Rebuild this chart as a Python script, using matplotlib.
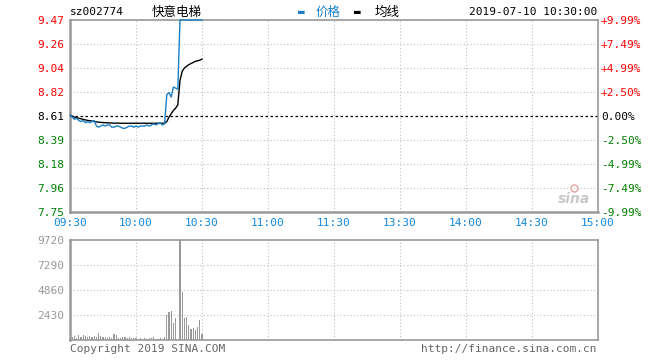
import numpy as np
import matplotlib.pyplot as plt

plt.rcParams['font.family'] = ['DejaVu Sans Mono', 'Noto Sans CJK SC']

# --- data (one value per minute, 09:30 .. 10:30) ---
prev_close = 8.61
price = [8.62, 8.60, 8.58, 8.59, 8.57, 8.56, 8.57, 8.55, 8.56, 8.55,
         8.56, 8.57, 8.52, 8.51, 8.52, 8.53, 8.52, 8.53, 8.53, 8.51,
         8.51, 8.52, 8.52, 8.51, 8.50, 8.50, 8.51, 8.52, 8.52, 8.51,
         8.52, 8.51, 8.52, 8.52, 8.52, 8.53, 8.52, 8.53, 8.54, 8.53,
         8.54, 8.55, 8.53, 8.54, 8.80, 8.82, 8.78, 8.87, 8.86, 8.85,
         9.47, 9.47, 9.47, 9.47, 9.47, 9.47, 9.47, 9.47, 9.47, 9.47, 9.47]
avg_line = [8.615, 8.61, 8.60, 8.595, 8.59, 8.585, 8.58, 8.575, 8.57, 8.568,
            8.565, 8.56, 8.557, 8.555, 8.553, 8.551, 8.55, 8.549, 8.548, 8.547,
            8.546, 8.546, 8.546, 8.545, 8.545, 8.545, 8.545, 8.545, 8.545, 8.545,
            8.545, 8.545, 8.545, 8.545, 8.545, 8.545, 8.545, 8.545, 8.545, 8.545,
            8.545, 8.545, 8.545, 8.545, 8.56, 8.60, 8.63, 8.66, 8.68, 8.71,
            8.93, 9.01, 9.04, 9.055, 9.07, 9.08, 9.09, 9.10, 9.105, 9.11, 9.12]
volume = [700, 250, 350, 200, 450, 300, 500, 350, 300, 400,
          300, 350, 300, 650, 350, 250, 300, 150, 250, 200,
          550, 450, 200, 150, 250, 300, 200, 250, 150, 200,
          150, 100, 200, 100, 150, 100, 150, 200, 300, 100,
          100, 150, 100, 300, 2430, 2750, 2850, 1650, 2100, 0,
          9720, 4700, 2150, 2250, 1450, 1100, 1200, 1000, 1300, 1950, 600]
time_labels = ['09:30', '10:00', '10:30', '11:00', '11:30',
               '13:30', '14:00', '14:30', '15:00']
price_ticks = [9.47, 9.26, 9.04, 8.82, 8.61, 8.39, 8.18, 7.96, 7.75]
pct_labels = ['+9.99%', '+7.49%', '+4.99%', '+2.50%', '0.00%',
              '-2.50%', '-4.99%', '-7.49%', '-9.99%']
vol_ticks = [9720, 7290, 4860, 2430]

RED, GREEN, BLUE = '#ff0000', '#008000', '#1a7fc8'
GRID = '#c0c0c0'
FRAME = '#999999'

minutes = np.arange(len(price))
fig = plt.figure(figsize=(6.6, 3.6), dpi=100)

# --- price panel ---
ax = fig.add_axes([70 / 660, 1 - 212 / 360, 528 / 660, 192 / 360])
ax.set_xlim(0, 240)
ax.set_ylim(7.75, 9.47)
tick_y = np.linspace(9.47, 7.75, 9)
for y in tick_y:
    if abs(y - prev_close) > 0.01:
        ax.axhline(y, color=GRID, lw=0.8, ls=(0, (1, 2)))
for x in range(30, 240, 30):
    ax.axvline(x, color=GRID, lw=0.8, ls=(0, (1, 2)))
ax.axhline(prev_close, color='black', lw=0.9, ls=(0, (2, 2)))
ax.plot(minutes, price, color=BLUE, lw=1.0, zorder=5, clip_on=False)
ax.plot(minutes, avg_line, color='black', lw=1.0, zorder=4)

for s in ax.spines.values():
    s.set_color(FRAME)
    s.set_zorder(2)
ax.spines['left'].set_linewidth(1.8)
ax.spines['bottom'].set_linewidth(1.8)
ax.spines['top'].set_linewidth(1.2)
ax.spines['right'].set_linewidth(1.2)
ax.set_yticks(tick_y)
ax.set_yticklabels([f'{v:.2f}' for v in price_ticks], fontsize=8)
ax.set_xticks(range(0, 241, 30))
ax.set_xticklabels(time_labels, fontsize=8, color='#1188dd')
ax.tick_params(length=0, pad=4)
for i, lab in enumerate(ax.get_yticklabels()):
    lab.set_color(RED if i < 4 else ('black' if i == 4 else GREEN))

ax2 = ax.twinx()
ax2.set_ylim(7.75, 9.47)
ax2.set_yticks(tick_y)
ax2.set_yticklabels(pct_labels, fontsize=8)
ax2.tick_params(length=0, pad=2)
for s in ax2.spines.values():
    s.set_visible(False)
for i, lab in enumerate(ax2.get_yticklabels()):
    lab.set_color(RED if i < 4 else ('black' if i == 4 else GREEN))

# watermark
ax.text(0.985, 0.03, 'sina', transform=ax.transAxes, fontsize=10,
        color='#c8c8c8', style='italic', fontweight='bold',
        family='DejaVu Sans', ha='right', va='bottom')
ax.plot([0.955], [0.125], 'o', transform=ax.transAxes, ms=5,
        mfc='none', mec='#e8b0b0', mew=1.2)

# --- header ---
fig.text(70 / 660, 1 - 12 / 360, 'sz002774', fontsize=8, va='center')
fig.text(177 / 660, 1 - 12 / 360, '快意电梯', fontsize=9, va='center',
         ha='center', family=['Noto Sans CJK SC'])
fig.text(298 / 660, 1 - 12 / 360, '▬', fontsize=8, color=BLUE, va='center')
fig.text(316 / 660, 1 - 12 / 360, '价格', fontsize=9, color=BLUE,
         va='center', family=['Noto Sans CJK SC'])
fig.text(354 / 660, 1 - 12 / 360, '▬', fontsize=8, color='black', va='center')
fig.text(375 / 660, 1 - 12 / 360, '均线', fontsize=9, color='black',
         va='center', family=['Noto Sans CJK SC'])
fig.text(597 / 660, 1 - 12 / 360, '2019-07-10 10:30:00', fontsize=8,
         va='center', ha='right')

# --- volume panel ---
axv = fig.add_axes([70 / 660, 1 - 340 / 360, 528 / 660, 100 / 360])
axv.set_xlim(0, 240)
axv.set_ylim(0, 9720)
for y in vol_ticks[1:]:
    axv.axhline(y, color=GRID, lw=0.8, ls=(0, (1, 2)))
for x in range(30, 240, 30):
    axv.axvline(x, color=GRID, lw=0.8, ls=(0, (1, 2)))
axv.bar(minutes, volume, width=0.5, color=FRAME, zorder=3)
for s in axv.spines.values():
    s.set_color(FRAME)
    s.set_linewidth(1.2)
axv.spines['left'].set_linewidth(1.8)
axv.set_yticks(vol_ticks)
axv.set_yticklabels([str(v) for v in vol_ticks], fontsize=8, color='#999999')
axv.set_xticks([])
axv.tick_params(length=0, pad=4)

fig.text(70 / 660, 1 - 349 / 360, 'Copyright 2019 SINA.COM', fontsize=8,
         color='#666666', va='center')
fig.text(597 / 660, 1 - 349 / 360, 'http://finance.sina.com.cn', fontsize=8,
         color='#666666', va='center', ha='right')

fig.savefig('out.png', dpi=100)
